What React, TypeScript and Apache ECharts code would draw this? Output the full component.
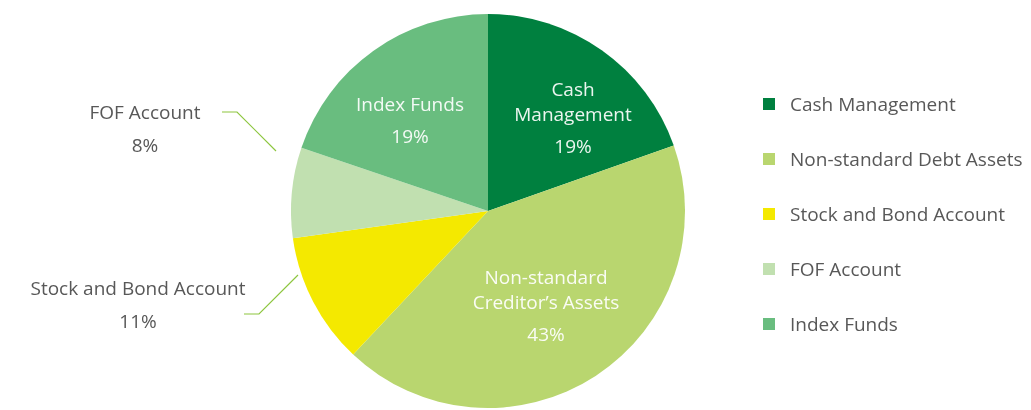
import React, { useEffect, useRef } from "react";
import * as echarts from "echarts";

const categories = [
  "Cash Management",
  "Non-standard Debt Assets",
  "Stock and Bond Account",
  "FOF Account",
  "Index Funds",
];
// slice sizes
const values = [19.6, 42.4, 10.8, 7.4, 19.8];
// percentages as printed on the chart
const percentLabels = ["19%", "43%", "11%", "8%", "19%"];
const sliceLabels = [
  "Cash\nManagement",
  "Non-standard\nCreditor\u2019s Assets",
  "Stock and Bond Account",
  "FOF Account",
  "Index Funds",
];
const insideFlags = [true, true, false, false, true];
const colors = ["#00803f", "#b9d66f", "#f4e900", "#c1e0b0", "#69bd7f"];

// label placement (presentation only)
const labelSpots: Record<number, { x: number; y: number; line?: number[][] }> = {
  0: { x: 573, y: 121 },
  1: { x: 546, y: 309 },
  2: { x: 138, y: 304, line: [[298, 275], [259, 314], [244, 314]] },
  3: { x: 145, y: 128.5, line: [[276, 151], [237, 112], [222, 112]] },
  4: { x: 410, y: 123.5 },
};

const FONT = "'Open Sans', 'Noto Sans', sans-serif";
const LINE_GREEN = "#8dc63f";

export default function App() {
  const ref = useRef<HTMLDivElement>(null);
  useEffect(() => {
    if (!ref.current) return;
    const chart = echarts.init(ref.current, undefined, { renderer: "svg" });
    const data = categories.map((name, i) => {
      const inside = insideFlags[i];
      const lines = sliceLabels[i].split("\n");
      const formatter = inside
        ? lines.map((l) => `{n|${l}}`).join("\n") + `\n{p|${percentLabels[i]}}`
        : lines.map((l) => `{o|${l}}`).join("\n") + `\n{o|${percentLabels[i]}}`;
      return {
        name,
        value: values[i],
        itemStyle: { color: colors[i] },
        label: {
          show: true,
          position: inside ? "inside" : "outside",
          formatter,
          align: "center",
        },
        labelLine: inside
          ? { show: false }
          : { show: true, lineStyle: { color: LINE_GREEN, width: 1.2 } },
      };
    });
    chart.setOption({
      animation: false,
      legend: {
        orient: "vertical",
        left: 758,
        top: 89,
        icon: "rect",
        itemWidth: 12,
        itemHeight: 12,
        itemGap: 35,
        selectedMode: false,
        data: categories,
        textStyle: {
          color: "#585858",
          fontSize: 19,
          fontFamily: FONT,
          lineHeight: 20,
          padding: [0, 0, 0, 10],
        },
      },
      series: [
        {
          type: "pie",
          center: [488, 211],
          radius: [0, 197],
          startAngle: 90,
          clockwise: true,
          silent: true,
          data,
          labelLine: { lineStyle: { color: LINE_GREEN, width: 1.2 } },
          label: {
            fontFamily: FONT,
            rich: {
              n: { color: "rgba(255,255,255,0.92)", fontSize: 19, lineHeight: 25, fontFamily: FONT },
              p: { color: "rgba(255,255,255,0.92)", fontSize: 19, lineHeight: 39, fontFamily: FONT },
              o: { color: "#585858", fontSize: 19, lineHeight: 33, fontFamily: FONT },
            },
          },
          labelLayout: (params: any) => {
            const s = labelSpots[params.dataIndex];
            const out: any = { x: s.x, y: s.y, align: "center", verticalAlign: "middle" };
            if (s.line) out.labelLinePoints = s.line;
            return out;
          },
        },
      ],
    });
    return () => chart.dispose();
  }, []);
  return (
    <div
      ref={ref}
      style={{ position: "fixed", left: 0, top: 0, width: 1031, height: 410 }}
    />
  );
}
